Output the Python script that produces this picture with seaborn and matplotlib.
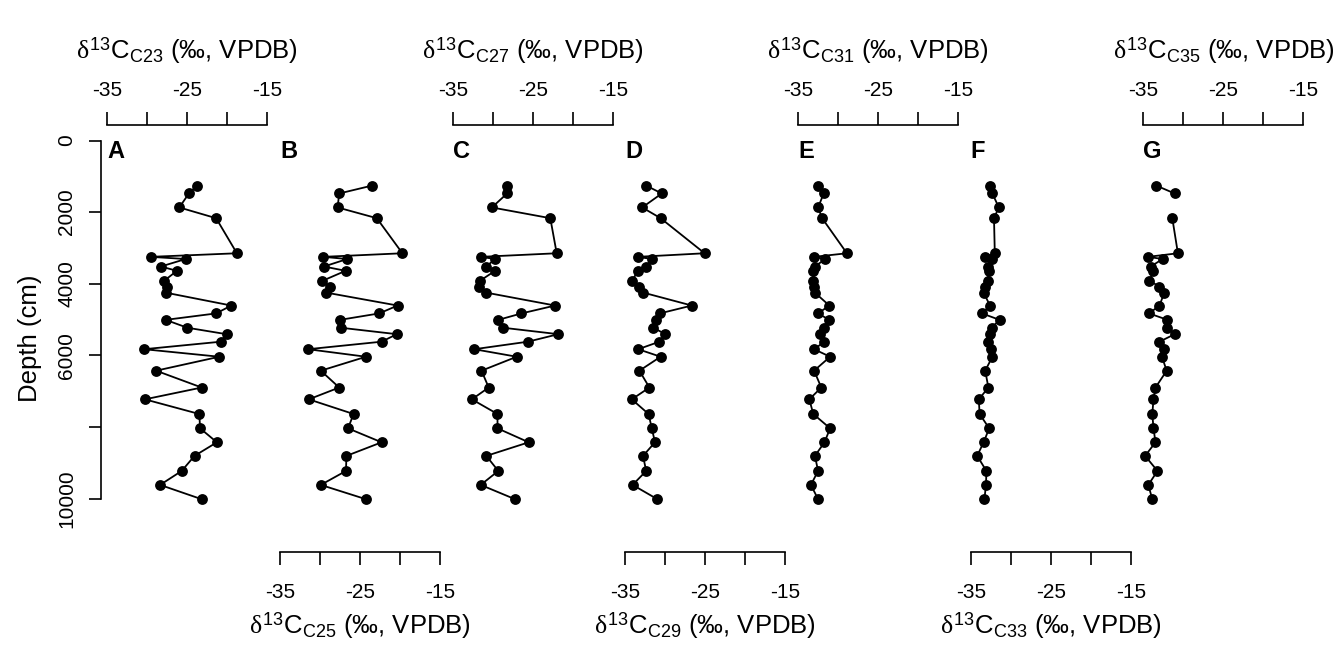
import numpy as np
import pandas as pd
import seaborn as sns
import matplotlib.pyplot as plt

# depth of each sample (cm)
depth = [1260, 1480, 1870, 2170, 3150, 3250, 3310, 3520, 3640, 3920,
         4080, 4250, 4610, 4830, 5010, 5230, 5410, 5620, 5830, 6040,
         6430, 6900, 7230, 7640, 8040, 8430, 8810, 9230, 9620, 10020]

# d13C of each n-alkane (permil, VPDB)
c23 = [-23.8, -24.8, -26.0, -21.4, -18.8, -29.6, -25.2, -28.3, -26.3, -27.9,
       -27.5, -27.7, -19.5, -21.4, -27.7, -25.0, -20.1, -20.8, -30.4, -21.0,
       -28.9, -23.2, -30.3, -23.5, -23.4, -21.3, -24.1, -25.7, -28.4, -23.2]
c25 = [-23.5, -27.6, -27.8, -22.9, -19.7, -29.6, -26.6, -29.5, -26.8, -29.7,
       -28.75, -29.2, -20.3, -22.6, -27.5, -27.4, -20.4, -22.3, -31.5, -24.25,
       -29.9, -27.6, -31.4, -25.8, -26.5, -22.3, -26.7, -26.75, -29.9, -24.25]
c27 = [-28.2, -28.2, -30.1, -22.8, -22.0, -31.5, -29.7, -30.8, -29.7, -31.6,
       -31.7, -30.8, -22.2, -26.4, -29.3, -28.7, -21.8, -25.6, -32.3, -27.0,
       -31.4, -30.5, -32.6, -29.4, -29.4, -25.5, -30.8, -29.3, -31.5, -27.2]
c29 = [-32.4, -30.45, -32.9, -30.6, -25.1, -33.45, -31.7, -32.4, -33.4, -34.2,
       -33.25, -32.75, -26.7, -30.7, -31.2, -31.5, -30.0, -30.75, -33.4, -30.6,
       -33.25, -32.0, -34.2, -32.1, -31.7, -31.3, -32.8, -32.4, -34.1, -31.0]
c31 = [-32.5, -31.8, -32.5, -32.0, -28.9, -33.0, -31.6, -32.9, -33.1, -33.1,
       -33.0, -32.9, -31.1, -32.5, -31.1, -31.8, -32.25, -31.7, -33.0, -31.0,
       -33.0, -32.1, -33.6, -33.1, -31.0, -31.7, -32.9, -32.5, -33.4, -32.5]
c33 = [-32.6, -32.3, -31.5, -32.1, -32.0, -33.2, -32.3, -32.8, -32.7, -32.9,
       -33.2, -33.4, -32.6, -33.6, -31.4, -32.4, -32.6, -32.8, -32.5, -32.3,
       -33.2, -32.8, -34.0, -33.9, -32.7, -33.4, -34.2, -33.05, -33.1, -33.3]
c35 = [-33.4, -31.1, np.nan, -31.4, -30.7, -34.45, -32.6, -34.1, -33.75, -34.25,
       -33.0, -32.4, -33.0, -34.3, -32.0, -32.1, -31.1, -33.0, -32.4, -32.7,
       -32.1, -33.5, -33.75, -33.9, -33.75, -33.5, -34.8, -33.25, -34.4, -33.9]

series = [c23, c25, c27, c29, c31, c33, c35]
names = ["C23", "C25", "C27", "C29", "C31", "C33", "C35"]
letters = ["A", "B", "C", "D", "E", "F", "G"]
xticks = [-35, -30, -25, -20, -15]
xticklabels = ["-35", "", "-25", "", "-15"]
yticks = [0, 2000, 4000, 6000, 8000, 10000]
yticklabels = ["0", "2000", "4000", "6000", "", "10000"]

sns.set_style("white")
plt.rcParams["font.family"] = ["Liberation Sans", "DejaVu Sans"]
plt.rcParams["mathtext.fontset"] = "custom"
plt.rcParams["mathtext.rm"] = "Liberation Sans"
plt.rcParams["mathtext.it"] = "Liberation Serif"
plt.rcParams["axes.linewidth"] = 1.2
for key in ["text.color", "axes.labelcolor", "axes.edgecolor",
            "xtick.color", "ytick.color"]:
    plt.rcParams[key] = "black"

W, H = 1336, 651
fig = plt.figure(figsize=(W / 100, H / 100), dpi=100)

top_px, bot_px = 125, 551.7
for i, vals in enumerate(series):
    ax = fig.add_axes([(107.3 + i * 172.7) / W, (H - bot_px) / H,
                       160 / W, (bot_px - top_px) / H])
    df = pd.DataFrame({"d13c": vals, "depth": depth})
    # break the line where a value is missing
    df["seg"] = np.cumsum(df["d13c"].isna())
    df = df.dropna()
    sns.lineplot(data=df, x="d13c", y="depth", units="seg", estimator=None,
                 sort=False, color="black", lw=1.3, marker="o", markersize=7.8,
                 markeredgewidth=0, ax=ax, clip_on=False, legend=False)
    ax.set_xlim(-35, -15)
    ax.set_ylim(11486, -433)
    for s in ax.spines.values():
        s.set_visible(False)

    on_top = i % 2 == 0
    side = "top" if on_top else "bottom"
    ax.spines[side].set_visible(True)
    ax.spines[side].set_bounds(-35, -15)
    ax.set_xticks(xticks)
    ax.set_xticklabels(xticklabels, fontsize=15)
    ax.tick_params(axis="x", which="both", top=on_top, bottom=not on_top,
                   labeltop=on_top, labelbottom=not on_top, direction="out",
                   length=9.5, width=1.2, pad=8.5 if on_top else 13)
    ax.xaxis.set_label_position(side)
    ax.set_xlabel(r"$\delta^{13}\mathrm{C}_{\mathrm{" + names[i] + r"}}$ (‰, VPDB)",
                  fontsize=18.5, labelpad=16 if on_top else 6)

    if i == 0:
        ax.spines["left"].set_visible(True)
        ax.spines["left"].set_position(("outward", 4.5))
        ax.spines["left"].set_bounds(0, 10000)
        ax.set_yticks(yticks)
        ax.set_yticklabels(yticklabels, fontsize=15, rotation=90, va="center")
        ax.tick_params(axis="y", left=True, direction="out", length=9,
                       width=1.2, pad=9)
        ax.set_ylabel("Depth (cm)", fontsize=18.5, labelpad=11)
    else:
        ax.set_yticks([])
        ax.set_ylabel("")

    ax.text(-35, 307, letters[i], fontsize=17, fontweight="bold",
            ha="left", va="center")

fig.savefig("out.png", dpi=100)
